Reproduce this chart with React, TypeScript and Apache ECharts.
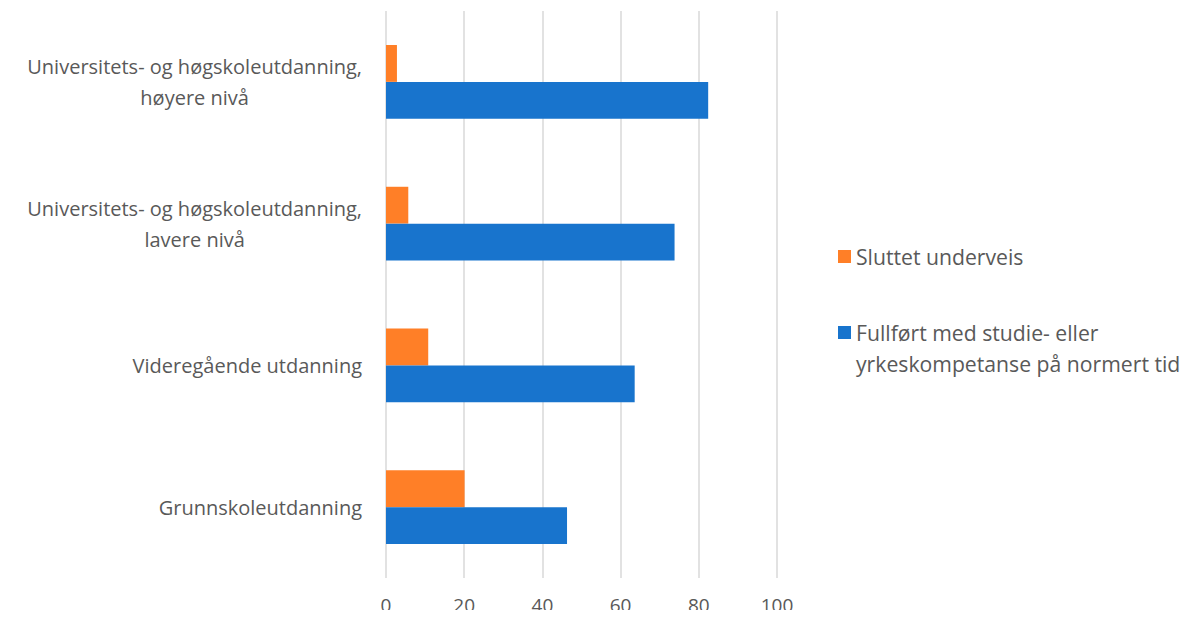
import React, { useEffect, useRef } from "react";
import * as echarts from "echarts";

const categories = [
  "Grunnskoleutdanning",
  "Videregående utdanning",
  "Universitets- og høgskoleutdanning,\nlavere nivå",
  "Universitets- og høgskoleutdanning,\nhøyere nivå",
];
const seriesNames = [
  "Sluttet underveis",
  "Fullført med studie- eller\nyrkeskompetanse på normert tid",
];
const sluttet = [20.1, 10.8, 5.7, 2.8];
const fullfort = [46.3, 63.6, 73.8, 82.4];
const xTicks = [0, 20, 40, 60, 80, 100];

const TEXT = "#595959";
const FONT = "'Open Sans', sans-serif";

export default function App() {
  const ref = useRef<HTMLDivElement>(null);
  useEffect(() => {
    if (!ref.current) return;
    const chart = echarts.init(ref.current, null, { renderer: "svg" });
    chart.setOption({
      animation: false,
      textStyle: { fontFamily: FONT },
      grid: { left: 386, right: 412, top: 11, bottom: 40, containLabel: false },
      legend: [
        {
          data: [seriesNames[0]],
          orient: "vertical",
          left: 838,
          top: 241,
          padding: 0,
          itemWidth: 13,
          itemHeight: 13,
          itemGap: 0,
          icon: "rect",
          selectedMode: false,
          textStyle: { color: TEXT, fontSize: 21.2, fontFamily: FONT, lineHeight: 31 },
        },
        {
          data: [seriesNames[1]],
          orient: "vertical",
          left: 838,
          top: 286,
          padding: 0,
          itemWidth: 13,
          itemHeight: 13,
          itemGap: 0,
          icon: "rect",
          selectedMode: false,
          formatter: (name: string) => "\n" + name,
          textStyle: {
            color: TEXT,
            fontSize: 21.2,
            fontFamily: FONT,
            lineHeight: 31,
          },
        },
      ],
      xAxis: {
        type: "value",
        min: xTicks[0],
        max: xTicks[xTicks.length - 1],
        interval: 20,
        axisLine: { show: false },
        axisTick: { show: false },
        axisLabel: { color: TEXT, fontSize: 19, fontFamily: FONT, margin: 17 },
        splitLine: { lineStyle: { color: "#d9d9d9", width: 1.5 } },
      },
      yAxis: {
        type: "category",
        data: categories,
        axisLine: { show: false },
        axisTick: { show: false },
        axisLabel: {
          color: TEXT,
          fontSize: 20,
          fontFamily: FONT,
          lineHeight: 31,
          margin: 24,
          formatter: (v: string) =>
            v
              .split("\n")
              .map((l) => "{c|" + l + "}")
              .join("\n"),
          rich: {
            c: { align: "center", color: TEXT, fontSize: 20, fontFamily: FONT, lineHeight: 31 },
          },
        },
      },
      series: [
        {
          name: seriesNames[0],
          type: "bar",
          data: sluttet,
          barGap: "0%",
          barCategoryGap: "48%",
          itemStyle: { color: "#ff7f27" },
        },
        {
          name: seriesNames[1],
          type: "bar",
          data: fullfort,
          barGap: "0%",
          barCategoryGap: "48%",
          itemStyle: { color: "#1874cd" },
        },
      ],
    });
    return () => chart.dispose();
  }, []);
  return <div ref={ref} style={{ width: 1189, height: 618, margin: -8 }} />;
}
